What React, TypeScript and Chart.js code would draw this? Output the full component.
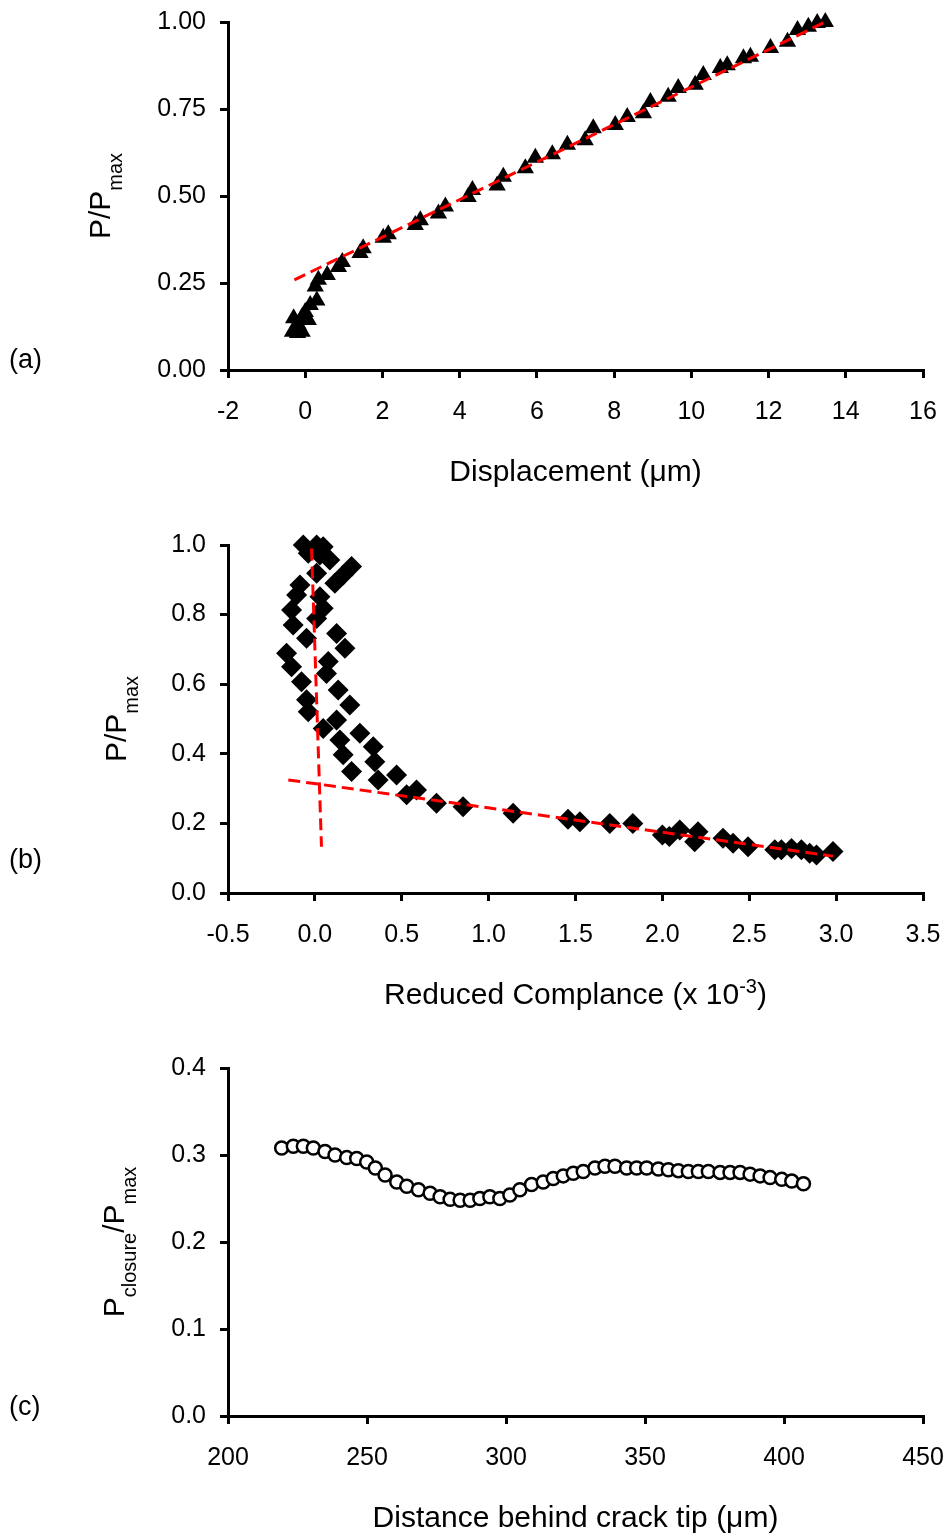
import React, { useEffect, useRef } from "react";
import { Chart, registerables } from "chart.js";
Chart.register(...registerables);

const FONT = '"Liberation Sans", Arial, sans-serif';

// ---------- Panel (a): P/Pmax vs displacement ----------
const dispX = [-0.33, -0.2, -0.08, -0.18, 0.08, -0.3, -0.08, 0, 0.13, 0.3, 0.26, 0.34, 0.57, 0.86, 0.96, 1.42, 1.5, 2.02, 2.15, 2.85, 2.98, 3.45, 3.63, 4.22, 4.33, 4.97, 5.13, 5.7, 5.96, 6.4, 6.79, 7.25, 7.46, 8.03, 8.34, 8.76, 8.94, 9.4, 9.66, 10.1, 10.31, 10.75, 10.93, 11.35, 11.53, 12.05, 12.49, 12.75, 13.03, 13.26, 13.47];
const dispLoad = [0.11, 0.106, 0.11, 0.13, 0.144, 0.149, 0.152, 0.167, 0.187, 0.2, 0.24, 0.259, 0.273, 0.296, 0.31, 0.336, 0.35, 0.38, 0.39, 0.417, 0.43, 0.45, 0.47, 0.497, 0.517, 0.53, 0.555, 0.58, 0.61, 0.62, 0.647, 0.66, 0.695, 0.704, 0.727, 0.738, 0.77, 0.785, 0.81, 0.82, 0.848, 0.868, 0.876, 0.896, 0.9, 0.925, 0.943, 0.977, 0.986, 0.997, 1.0];
const fitAX = [-0.28, 13.47];
const fitAY = [0.259, 1.0];
const aXTicks = [-2, 0, 2, 4, 6, 8, 10, 12, 14, 16];
const aXLabels = ["-2", "0", "2", "4", "6", "8", "10", "12", "14", "16"];
const aYTicks = [0, 0.25, 0.5, 0.75, 1.0];
const aYLabels = ["0.00", "0.25", "0.50", "0.75", "1.00"];

// ---------- Panel (b): P/Pmax vs reduced compliance ----------
const complX = [-0.067, 0.01, 0.048, -0.038, 0.029, 0.086, 0.211, 0.163, 0.115, 0.01, -0.086, -0.105, 0.029, 0.048, -0.134, 0.01, -0.125, -0.048, 0.125, 0.173, -0.163, -0.134, 0.077, 0.067, -0.077, 0.134, -0.048, 0.201, -0.038, 0.048, 0.125, 0.144, 0.259, 0.336, 0.163, 0.345, 0.211, 0.364, 0.47, 0.528, 0.585, 0.70, 0.853, 1.141, 1.457, 1.525, 1.697, 1.83, 2.0, 2.04, 2.10, 2.186, 2.205, 2.349, 2.407, 2.493, 2.647, 2.685, 2.743, 2.80, 2.848, 2.887, 2.982];
const complLoad = [1.0, 1.0, 0.995, 0.976, 0.971, 0.957, 0.938, 0.914, 0.89, 0.919, 0.885, 0.856, 0.851, 0.818, 0.813, 0.789, 0.77, 0.732, 0.746, 0.703, 0.689, 0.65, 0.665, 0.631, 0.607, 0.583, 0.555, 0.54, 0.521, 0.473, 0.497, 0.44, 0.459, 0.42, 0.397, 0.377, 0.349, 0.325, 0.339, 0.282, 0.296, 0.258, 0.248, 0.229, 0.212, 0.205, 0.2, 0.2, 0.167, 0.162, 0.181, 0.147, 0.176, 0.157, 0.143, 0.133, 0.124, 0.124, 0.128, 0.124, 0.114, 0.109, 0.119];
const fitB1X = [-0.019, 0.038];
const fitB1Y = [0.99, 0.133];
const fitB2X = [-0.153, 2.982];
const fitB2Y = [0.325, 0.106];
const bXTicks = [-0.5, 0, 0.5, 1.0, 1.5, 2.0, 2.5, 3.0, 3.5];
const bXLabels = ["-0.5", "0.0", "0.5", "1.0", "1.5", "2.0", "2.5", "3.0", "3.5"];
const bYTicks = [0, 0.2, 0.4, 0.6, 0.8, 1.0];
const bYLabels = ["0.0", "0.2", "0.4", "0.6", "0.8", "1.0"];

// ---------- Panel (c): Pclosure/Pmax vs distance ----------
const distX = [219.3, 223.5, 227.1, 230.7, 234.9, 238.5, 242.7, 246.3, 249.9, 253.0, 256.5, 260.7, 264.3, 268.5, 272.7, 276.3, 279.9, 283.5, 287.1, 290.6, 294.2, 297.8, 301.4, 305.0, 309.2, 313.4, 317.0, 320.6, 324.2, 327.8, 332.0, 335.6, 339.2, 343.4, 347.0, 350.6, 354.8, 358.4, 362.0, 365.6, 369.2, 372.8, 377.0, 380.6, 384.2, 387.8, 391.4, 395.0, 399.2, 402.8, 407.0];
const closure = [0.308, 0.31, 0.31, 0.308, 0.304, 0.3, 0.297, 0.296, 0.292, 0.285, 0.277, 0.269, 0.264, 0.26, 0.256, 0.252, 0.249, 0.248, 0.248, 0.25, 0.252, 0.25, 0.254, 0.26, 0.266, 0.269, 0.273, 0.276, 0.279, 0.281, 0.285, 0.287, 0.287, 0.285, 0.285, 0.285, 0.284, 0.283, 0.282, 0.281, 0.281, 0.281, 0.28, 0.28, 0.28, 0.278, 0.276, 0.274, 0.272, 0.27, 0.267];
const cXTicks = [200, 250, 300, 350, 400, 450];
const cXLabels = ["200", "250", "300", "350", "400", "450"];
const cYTicks = [0, 0.1, 0.2, 0.3, 0.4];
const cYLabels = ["0.0", "0.1", "0.2", "0.3", "0.4"];

type Seg = { t: string; s?: "sub" | "sup" };

const zip = (xs: number[], ys: number[]) => xs.map((x, i) => ({ x, y: ys[i] }));

const fitLine = (xs: number[], ys: number[]) => ({
  type: "scatter" as const,
  data: zip(xs, ys),
  showLine: true,
  borderColor: "#ff0000",
  backgroundColor: "#ff0000",
  borderWidth: 3,
  borderDash: [12, 6],
  pointRadius: 0,
  fill: false,
  clip: false,
  order: 0,
});

const segFont = (sg: Seg) => (sg.s ? `20px ${FONT}` : `30px ${FONT}`);

function drawSegs(ctx: CanvasRenderingContext2D, segs: Seg[], cx: number, cy: number, rotate: boolean) {
  ctx.save();
  ctx.translate(cx, cy);
  if (rotate) ctx.rotate(-Math.PI / 2);
  ctx.textAlign = "left";
  ctx.textBaseline = "alphabetic";
  ctx.fillStyle = "#000";
  const widths = segs.map((sg) => {
    ctx.font = segFont(sg);
    return ctx.measureText(sg.t).width;
  });
  const total = widths.reduce((a, b) => a + b, 0);
  let x = -total / 2;
  segs.forEach((sg, i) => {
    ctx.font = segFont(sg);
    const dy = sg.s === "sub" ? 12 : sg.s === "sup" ? -11 : 0;
    ctx.fillText(sg.t, x, dy);
    x += widths[i];
  });
  ctx.restore();
}

type PanelDef = {
  height: number;
  areaTop: number;
  areaBottom: number;
  xMin: number; xMax: number; xTicks: number[]; xLabels: string[];
  yMin: number; yMax: number; yTicks: number[]; yLabels: string[];
  datasets: any[];
  xTitle: Seg[];
  yTitle: Seg[];
  yTitleX: number;
  label: string;
  labelY: number;
};

const AREA_LEFT = 228;
const AREA_RIGHT = 923;

const zeroPad = (s: any) => {
  s.paddingLeft = 0;
  s.paddingRight = 0;
  s.paddingTop = 0;
  s.paddingBottom = 0;
};

function PanelChart({ def, top }: { def: PanelDef; top: number }) {
  const ref = useRef<HTMLCanvasElement>(null);
  useEffect(() => {
    if (!ref.current) return;
    const titles = {
      id: "titles",
      afterDraw(chart: any) {
        const ctx = chart.ctx as CanvasRenderingContext2D;
        const area = chart.chartArea;
        drawSegs(ctx, def.xTitle, (area.left + area.right) / 2, area.bottom + 111, false);
        drawSegs(ctx, def.yTitle, def.yTitleX, (area.top + area.bottom) / 2, true);
        ctx.save();
        ctx.font = `27px ${FONT}`;
        ctx.fillStyle = "#000";
        ctx.textAlign = "left";
        ctx.textBaseline = "middle";
        ctx.fillText(def.label, 9, def.labelY);
        ctx.restore();
      },
    };
    const tickFont = { family: FONT, size: 25 };
    const chart = new Chart(ref.current, {
      type: "scatter",
      data: { datasets: def.datasets },
      options: {
        animation: false,
        responsive: false,
        maintainAspectRatio: false,
        layout: { padding: { left: 0, right: 946 - AREA_RIGHT, top: def.areaTop, bottom: 0 } },
        plugins: { legend: { display: false }, tooltip: { enabled: false } },
        scales: {
          x: {
            type: "linear",
            min: def.xMin,
            max: def.xMax,
            afterBuildTicks: (s: any) => { s.ticks = def.xTicks.map((v) => ({ value: v })); },
            afterFit: (s: any) => { s.height = def.height - def.areaBottom; zeroPad(s); },
            ticks: {
              autoSkip: false,
              maxRotation: 0,
              color: "#000",
              font: tickFont,
              padding: 19,
              callback: (_v: any, i: number) => def.xLabels[i],
            },
            grid: { display: true, drawOnChartArea: false, drawTicks: true, tickLength: 8, color: "#000", lineWidth: 3 },
            border: { display: true, color: "#000", width: 3 },
          },
          y: {
            type: "linear",
            min: def.yMin,
            max: def.yMax,
            afterBuildTicks: (s: any) => { s.ticks = def.yTicks.map((v) => ({ value: v })); },
            afterFit: (s: any) => { s.width = AREA_LEFT; zeroPad(s); },
            ticks: {
              autoSkip: false,
              color: "#000",
              font: tickFont,
              padding: 14,
              callback: (_v: any, i: number) => def.yLabels[i],
            },
            grid: { display: true, drawOnChartArea: false, drawTicks: true, tickLength: 8, color: "#000", lineWidth: 3 },
            border: { display: true, color: "#000", width: 3 },
          },
        },
      },
      plugins: [titles],
    } as any);
    return () => chart.destroy();
  }, [def]);
  return (
    <canvas
      ref={ref}
      width={946}
      height={def.height}
      style={{ position: "absolute", left: 0, top, width: 946, height: def.height, display: "block" }}
    />
  );
}

const panelA: PanelDef = {
  height: 510,
  areaTop: 22,
  areaBottom: 370,
  xMin: -2, xMax: 16, xTicks: aXTicks, xLabels: aXLabels,
  yMin: 0, yMax: 1, yTicks: aYTicks, yLabels: aYLabels,
  datasets: [
    fitLine(fitAX, fitAY),
    {
      data: zip(dispX, dispLoad),
      pointStyle: "triangle",
      pointRadius: 10,
      backgroundColor: "#000",
      borderColor: "#000",
      borderWidth: 0,
      clip: false,
      order: 1,
    },
  ],
  xTitle: [{ t: "Displacement (\u03bcm)" }],
  yTitle: [{ t: "P/P" }, { t: "max", s: "sub" }],
  yTitleX: 110,
  label: "(a)",
  labelY: 361,
};

const panelB: PanelDef = {
  height: 520,
  areaTop: 35,
  areaBottom: 383,
  xMin: -0.5, xMax: 3.5, xTicks: bXTicks, xLabels: bXLabels,
  yMin: 0, yMax: 1, yTicks: bYTicks, yLabels: bYLabels,
  datasets: [
    fitLine(fitB1X, fitB1Y),
    fitLine(fitB2X, fitB2Y),
    {
      data: zip(complX, complLoad),
      pointStyle: "rectRot",
      pointRadius: 10.5,
      backgroundColor: "#000",
      borderColor: "#000",
      borderWidth: 0,
      clip: false,
      order: 1,
    },
  ],
  xTitle: [{ t: "Reduced Complance (x 10" }, { t: "-3", s: "sup" }, { t: ")" }],
  yTitle: [{ t: "P/P" }, { t: "max", s: "sub" }],
  yTitleX: 126,
  label: "(b)",
  labelY: 351,
};

const panelC: PanelDef = {
  height: 509,
  areaTop: 38,
  areaBottom: 386,
  xMin: 200, xMax: 450, xTicks: cXTicks, xLabels: cXLabels,
  yMin: 0, yMax: 0.4, yTicks: cYTicks, yLabels: cYLabels,
  datasets: [
    {
      data: zip(distX, closure),
      pointStyle: "circle",
      pointRadius: 6.5,
      backgroundColor: "#fff",
      borderColor: "#000",
      borderWidth: 2.5,
      clip: false,
      order: 1,
    },
  ],
  xTitle: [{ t: "Distance behind crack tip (\u03bcm)" }],
  yTitle: [{ t: "P" }, { t: "closure", s: "sub" }, { t: "/P" }, { t: "max", s: "sub" }],
  yTitleX: 124,
  label: "(c)",
  labelY: 378,
};

export default function App() {
  return (
    <div style={{ position: "absolute", left: 0, top: 0, width: 946, height: 1539, background: "#fff", overflow: "hidden" }}>
      <PanelChart def={panelA} top={0} />
      <PanelChart def={panelB} top={510} />
      <PanelChart def={panelC} top={1030} />
    </div>
  );
}
